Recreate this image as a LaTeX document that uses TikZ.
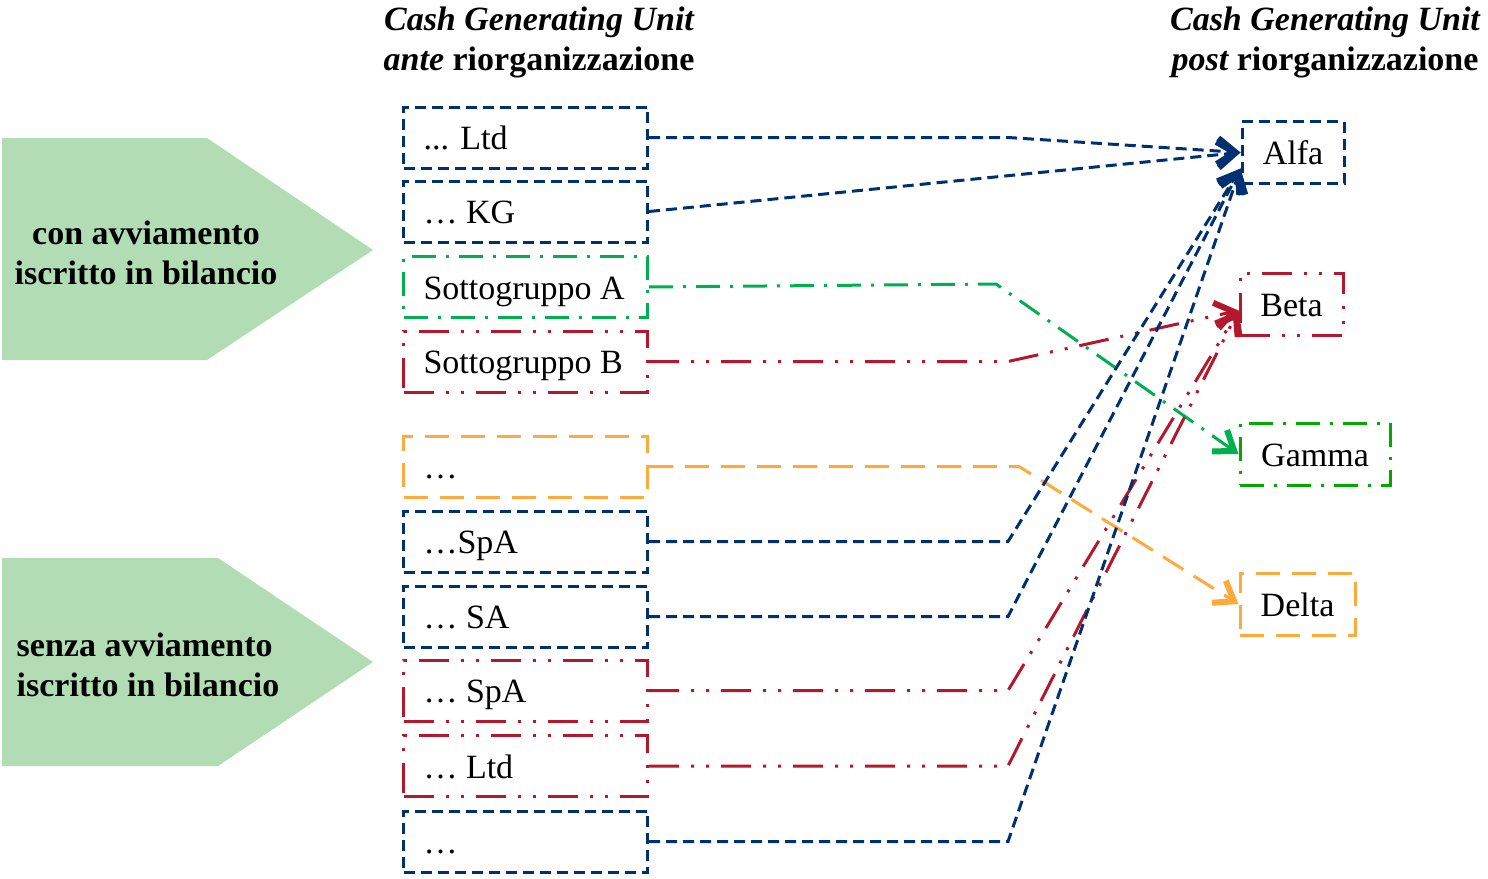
\documentclass[tikz,border=0pt]{standalone}
\usepackage{fontspec}
\setmainfont{Liberation Serif}
\font\hdrbi="Liberation Serif/BI" at 17pt
\usetikzlibrary{arrows.meta}
\definecolor{cgblue}{RGB}{0,48,112}
\definecolor{cgred}{RGB}{180,24,45}
\definecolor{cggreen}{RGB}{0,176,80}
\definecolor{cggreenbox}{RGB}{0,168,0}
\definecolor{cgorange}{RGB}{255,170,60}
\definecolor{cgfill}{RGB}{178,221,180}
\newcommand\lefttxt[1]{\makebox[102pt][l]{#1}}
\tikzset{
  txt/.style={font=\fontsize{17}{20}\selectfont, text=black, text height=12pt, text depth=0pt},
  lbox/.style={draw, line width=1.5pt, minimum width=122pt, minimum height=30.5pt,
    inner xsep=10pt, inner ysep=0pt, anchor=west, txt},
  rbox/.style={draw, line width=1.5pt, minimum height=31pt, inner sep=0pt, txt},
  bdash/.style={draw=cgblue, dash pattern=on 5.5pt off 3pt},
  gdash/.style={draw=cggreen, dash pattern=on 12pt off 5pt on 1.5pt off 5pt},
  gdashbox/.style={draw=cggreenbox, dash pattern=on 12pt off 5pt on 1.5pt off 5pt},
  rdash/.style={draw=cgred, dash pattern=on 15pt off 6pt on 1.5pt off 6pt on 1.5pt off 6pt},
  odash/.style={draw=cgorange, dash pattern=on 12pt off 6pt},
  conn/.style={line width=1.5pt, -{Straight Barb[length=9pt,width=13pt,line width=3pt]}},
  tag/.style={font=\fontsize{17}{20}\selectfont\bfseries, align=center},
}
\begin{document}
\begin{tikzpicture}[x=0.5pt,y=-0.5pt]
\useasboundingbox (0,0) rectangle (1488,878);

% headers
\node[tag] (h1) at (539,42) {{\hdrbi Cash Generating Unit}\\{\hdrbi ante} riorganizzazione};
\node[tag] (h2) at (1325,42) {{\hdrbi Cash Generating Unit}\\{\hdrbi post} riorganizzazione};

% left tags
\fill[cgfill] (2,138) -- (207,138) -- (373,250) -- (207,360) -- (2,360) -- cycle;
\node[tag] (t1) at (146,253) {con avviamento\\iscritto in bilancio};
\fill[cgfill] (2,558) -- (218,558) -- (373,662) -- (218,766) -- (2,766) -- cycle;
\node[tag, align=left] (t2) at (148,665) {senza avviamento\\iscritto in bilancio};

% left boxes
\node[lbox, bdash] (b1) at (402,137.5) {\lefttxt{... Ltd}};
\node[lbox, bdash] (b2) at (402,211.5) {\lefttxt{… KG}};
\node[lbox, gdash] (b3) at (402,287) {\lefttxt{Sottogruppo A}};
\node[lbox, rdash] (b4) at (402,361.5) {\lefttxt{Sottogruppo B}};
\node[lbox, odash] (b5) at (402,466.5) {\lefttxt{…}};
\node[lbox, bdash] (b6) at (402,541.5) {\lefttxt{…SpA}};
\node[lbox, bdash] (b7) at (402,616.5) {\lefttxt{… SA}};
\node[lbox, rdash] (b8) at (402,690.5) {\lefttxt{… SpA}};
\node[lbox, rdash] (b9) at (402,766) {\lefttxt{… Ltd}};
\node[lbox, bdash] (b10) at (402,841.5) {\lefttxt{…}};

% right boxes
\node[rbox, bdash, minimum width=51pt] (alfa) at (1293,152.5) {Alfa};
\node[rbox, rdash, minimum width=51.5pt] (beta) at (1291.5,304) {Beta};
\node[rbox, gdashbox, minimum width=75pt] (gamma) at (1315,454) {Gamma};
\node[rbox, odash, minimum width=57.5pt] (delta) at (1297.5,604) {Delta};

% connectors
\draw[conn, bdash] (b1.east) -- ++(359,0) -- (alfa.west);
\draw[conn, bdash] (b2.east) -- (alfa.west);
\draw[conn, gdash] (b3.east) -- ++(347,-3) -- (gamma.west);
\draw[conn, rdash] (b4.east) -- ++(359,0) -- (beta.187);
\draw[conn, odash] (b5.east) -- ++(370,0) -- (delta.west);
\draw[conn, bdash] (b6.east) -- ++(359,0) -- (alfa.197);
\draw[conn, bdash] (b7.east) -- ++(359,0) -- (alfa.197);
\draw[conn, rdash] (b8.east) -- ++(359,0) -- (beta.187);
\draw[conn, rdash] (b9.east) -- ++(359,0) -- (beta.187);
\draw[conn, bdash] (b10.east) -- ++(359,0) -- (alfa.197);
\end{tikzpicture}
\end{document}
